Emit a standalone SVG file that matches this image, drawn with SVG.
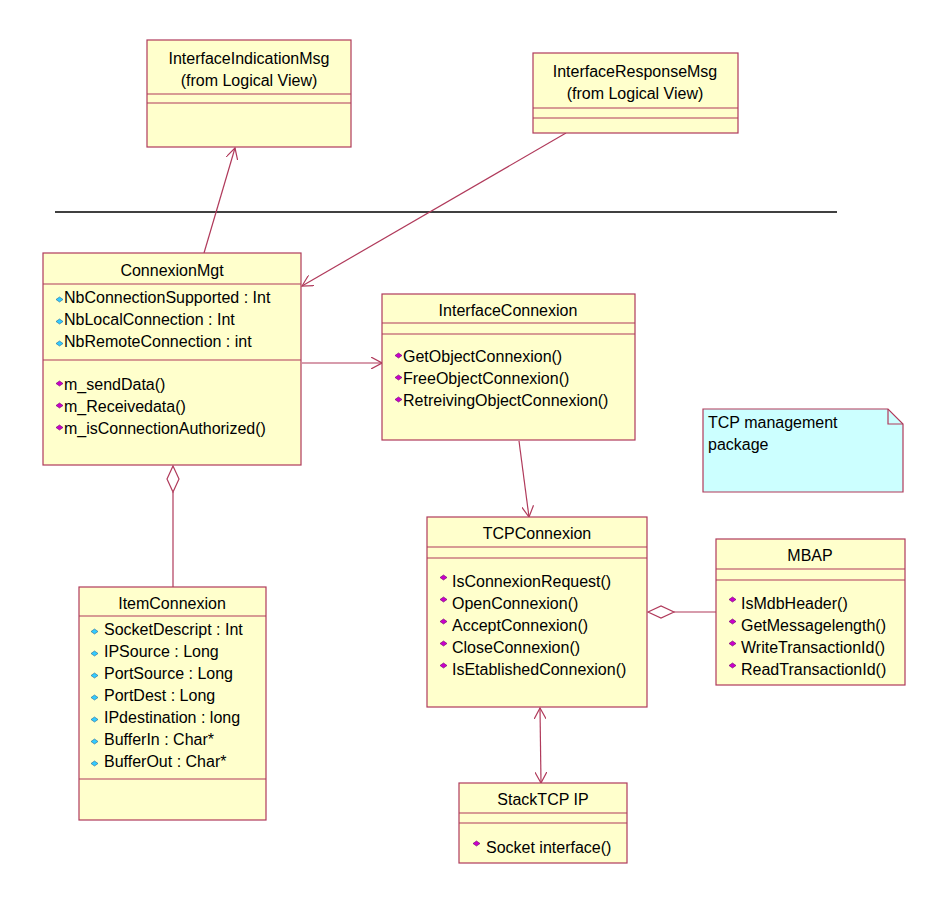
<svg xmlns="http://www.w3.org/2000/svg" width="950" height="906" viewBox="0 0 950 906">
<style>
.box{fill:#FFFFCC;stroke:#B03A5B;stroke-width:1.2}
.sep{stroke:#B03A5B;stroke-width:1.2}
.t{font-family:"Liberation Sans",Arial,sans-serif;font-size:16px;fill:#000}
.c{text-anchor:middle}
.con{stroke:#B03A5B;stroke-width:1.2;fill:none}
.a{fill:#33CCFF;stroke:#226699;stroke-width:0.6}
.m{fill:#CC00CC;stroke:#660066;stroke-width:0.6}
</style>
<defs>
<marker id="ar" viewBox="0 0 12 12" refX="11" refY="6" markerWidth="12" markerHeight="12" markerUnits="userSpaceOnUse" orient="auto-start-reverse"><path d="M0,0 L11,6 L0,12" fill="none" stroke="#B03A5B" stroke-width="1.2"/></marker>
<path id="ai" d="M0,-3.5 L3.5,-6 L7,-3.5 L3.5,-1 Z"/>
</defs>
<rect width="950" height="906" fill="#fff"/>
<line x1="55" y1="212" x2="837" y2="212" stroke="#000" stroke-width="1.5"/>
<g id="connectors">
<line class="con" x1="204" y1="253" x2="235" y2="148" marker-end="url(#ar)"/>
<line class="con" x1="566" y1="133" x2="302" y2="286" marker-end="url(#ar)"/>
<line class="con" x1="302" y1="363" x2="382" y2="363" marker-end="url(#ar)"/>
<line class="con" x1="519" y1="441" x2="529" y2="517" marker-end="url(#ar)"/>
<path class="con" d="M173,466 L179,479 L173,492 L167,479 Z" fill="#fff"/>
<line class="con" x1="173" y1="492" x2="173" y2="587"/>
<path class="con" d="M648,612 L661,606 L674,612 L661,618 Z" fill="#fff"/>
<line class="con" x1="674" y1="612" x2="716" y2="612"/>
<line class="con" x1="540" y1="708" x2="541" y2="783" marker-start="url(#ar)" marker-end="url(#ar)"/>
</g>
<g id="InterfaceIndicationMsg">
<rect class="box" x="147" y="40" width="204" height="107"/>
<text class="t c" x="249" y="64">InterfaceIndicationMsg</text>
<text class="t c" x="249" y="86">(from Logical View)</text>
<line class="sep" x1="147" y1="94" x2="351" y2="94"/><line class="sep" x1="147" y1="103" x2="351" y2="103"/>
</g>
<g id="InterfaceResponseMsg">
<rect class="box" x="533" y="53" width="205" height="80"/>
<text class="t c" x="635" y="77">InterfaceResponseMsg</text>
<text class="t c" x="635" y="99">(from Logical View)</text>
<line class="sep" x1="533" y1="108" x2="738" y2="108"/><line class="sep" x1="533" y1="118" x2="738" y2="118"/>
</g>
<g id="ConnexionMgt">
<rect class="box" x="43" y="253" width="258" height="212"/>
<text class="t c" x="172" y="276">ConnexionMgt</text>
<line class="sep" x1="43" y1="284" x2="301" y2="284"/>
<use href="#ai" class="a" x="56" y="303"/><text class="t" x="64" y="303">NbConnectionSupported : Int</text>
<use href="#ai" class="a" x="56" y="325"/><text class="t" x="64" y="325">NbLocalConnection : Int</text>
<use href="#ai" class="a" x="56" y="347"/><text class="t" x="64" y="347">NbRemoteConnection : int</text>
<line class="sep" x1="43" y1="360" x2="301" y2="360"/>
<use href="#ai" class="m" x="56" y="387"/><text class="t" x="64" y="390">m_sendData()</text>
<use href="#ai" class="m" x="56" y="409"/><text class="t" x="64" y="412">m_Receivedata()</text>
<use href="#ai" class="m" x="56" y="431"/><text class="t" x="64" y="434">m_isConnectionAuthorized()</text>
</g>
<g id="InterfaceConnexion">
<rect class="box" x="382" y="294" width="253" height="146"/>
<text class="t c" x="508" y="316">InterfaceConnexion</text>
<line class="sep" x1="382" y1="323" x2="635" y2="323"/><line class="sep" x1="382" y1="334" x2="635" y2="334"/>
<use href="#ai" class="m" x="395" y="359"/><text class="t" x="403" y="362">GetObjectConnexion()</text>
<use href="#ai" class="m" x="395" y="381"/><text class="t" x="403" y="384">FreeObjectConnexion()</text>
<use href="#ai" class="m" x="395" y="403"/><text class="t" x="403" y="406">RetreivingObjectConnexion()</text>
</g>
<g id="note">
<path d="M703,409 L888,409 L903,424 L903,492 L703,492 Z" fill="#CCFFFF" stroke="#B03A5B" stroke-width="1.2"/>
<path d="M888,409 L888,424 L903,424" fill="none" stroke="#B03A5B" stroke-width="1.2"/>
<text class="t" x="708" y="428">TCP management</text>
<text class="t" x="708" y="450">package</text>
</g>
<g id="TCPConnexion">
<rect class="box" x="427" y="517" width="220" height="190"/>
<text class="t c" x="537" y="539">TCPConnexion</text>
<line class="sep" x1="427" y1="547" x2="647" y2="547"/><line class="sep" x1="427" y1="558" x2="647" y2="558"/>
<use href="#ai" class="m" x="440" y="581"/><text class="t" x="452" y="587">IsConnexionRequest()</text>
<use href="#ai" class="m" x="440" y="603"/><text class="t" x="452" y="609">OpenConnexion()</text>
<use href="#ai" class="m" x="440" y="625"/><text class="t" x="452" y="631">AcceptConnexion()</text>
<use href="#ai" class="m" x="440" y="647"/><text class="t" x="452" y="653">CloseConnexion()</text>
<use href="#ai" class="m" x="440" y="669"/><text class="t" x="452" y="675">IsEtablishedConnexion()</text>
</g>
<g id="MBAP">
<rect class="box" x="716" y="539" width="189" height="146"/>
<text class="t c" x="810" y="561">MBAP</text>
<line class="sep" x1="716" y1="569" x2="905" y2="569"/><line class="sep" x1="716" y1="580" x2="905" y2="580"/>
<use href="#ai" class="m" x="729" y="603"/><text class="t" x="741" y="609">IsMdbHeader()</text>
<use href="#ai" class="m" x="729" y="625"/><text class="t" x="741" y="631">GetMessagelength()</text>
<use href="#ai" class="m" x="729" y="647"/><text class="t" x="741" y="653">WriteTransactionId()</text>
<use href="#ai" class="m" x="729" y="669"/><text class="t" x="741" y="675">ReadTransactionId()</text>
</g>
<g id="ItemConnexion">
<rect class="box" x="79" y="587" width="187" height="233"/>
<text class="t c" x="172" y="609">ItemConnexion</text>
<line class="sep" x1="79" y1="616" x2="266" y2="616"/>
<use href="#ai" class="a" x="91" y="635"/><text class="t" x="104" y="635">SocketDescript : Int</text>
<use href="#ai" class="a" x="91" y="657"/><text class="t" x="104" y="657">IPSource : Long</text>
<use href="#ai" class="a" x="91" y="679"/><text class="t" x="104" y="679">PortSource : Long</text>
<use href="#ai" class="a" x="91" y="701"/><text class="t" x="104" y="701">PortDest : Long</text>
<use href="#ai" class="a" x="91" y="723"/><text class="t" x="104" y="723">IPdestination : long</text>
<use href="#ai" class="a" x="91" y="745"/><text class="t" x="104" y="745">BufferIn : Char*</text>
<use href="#ai" class="a" x="91" y="767"/><text class="t" x="104" y="767">BufferOut : Char*</text>
<line class="sep" x1="79" y1="779" x2="266" y2="779"/>
</g>
<g id="StackTCPIP">
<rect class="box" x="459" y="783" width="168" height="80"/>
<text class="t c" x="543" y="805">StackTCP IP</text>
<line class="sep" x1="459" y1="813" x2="627" y2="813"/><line class="sep" x1="459" y1="823" x2="627" y2="823"/>
<use href="#ai" class="m" x="473" y="847"/><text class="t" x="486" y="853">Socket interface()</text>
</g>
</svg>
